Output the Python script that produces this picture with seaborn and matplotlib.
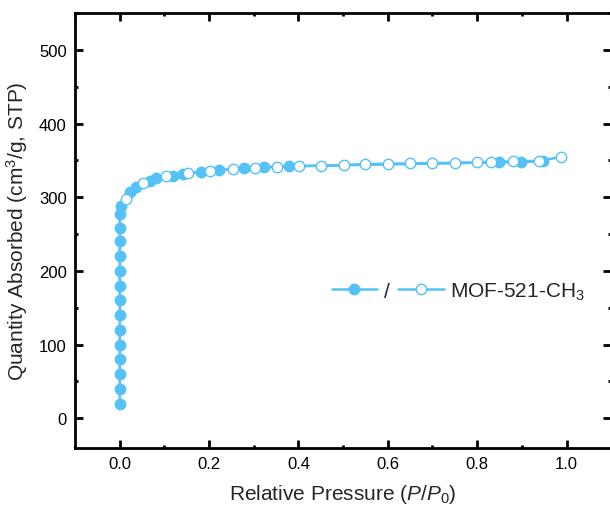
import numpy as np
import pandas as pd
import seaborn as sns
import matplotlib.pyplot as plt
from matplotlib.lines import Line2D

# Adsorption branch (filled markers)
ads_p = [0.0, 0.0, 0.0, 0.0, 0.0, 0.0, 0.0, 0.0, 0.0, 0.0, 0.0, 0.0, 0.0, 0.0,
         0.004, 0.024, 0.036, 0.067, 0.082, 0.119, 0.141, 0.182, 0.223, 0.279,
         0.323, 0.379, 0.848, 0.899, 0.948]
ads_q = [20, 40, 60, 80, 100, 120, 140, 160, 180, 200, 220, 240, 258, 277,
         288.7, 307.7, 313.6, 322.6, 325.8, 329.4, 331.7, 334.8, 336.6, 339.4,
         340.7, 342.0, 347.3, 347.7, 349.0]

# Desorption branch (open markers)
des_p = [0.988, 0.939, 0.881, 0.831, 0.800, 0.750, 0.700, 0.649, 0.600, 0.549,
         0.501, 0.450, 0.401, 0.353, 0.303, 0.253, 0.202, 0.152, 0.104, 0.052, 0.013]
des_q = [354.5, 349.5, 348.6, 347.7, 347.3, 346.8, 346.4, 346.0, 345.5, 345.0,
         343.6, 342.7, 342.5, 341.6, 339.8, 338.5, 335.7, 333.0, 328.5, 319.5, 297.7]

ads = pd.DataFrame({'p': ads_p, 'q': ads_q})
des = pd.DataFrame({'p': des_p, 'q': des_q})

sns.set_style("ticks")
plt.rcParams['font.family'] = ['Liberation Sans', 'DejaVu Sans']
plt.rcParams['mathtext.fontset'] = 'custom'
plt.rcParams['mathtext.rm'] = 'Liberation Sans'
plt.rcParams['mathtext.it'] = 'Liberation Sans:italic'

color = '#54C2F6'
ms = 7.5

fig = plt.figure(figsize=(6.1, 5.1), dpi=100)
ax = fig.add_axes([0.123, 0.12, 0.879, 0.8525])

sns.lineplot(data=ads, x='p', y='q', sort=False, estimator=None, ax=ax,
             color=color, lw=1.8, marker='o', markersize=ms,
             markerfacecolor=color, markeredgecolor=color, markeredgewidth=1)
sns.lineplot(data=des, x='p', y='q', sort=False, estimator=None, ax=ax,
             color=color, lw=1.8, marker='o', markersize=ms,
             markerfacecolor='white', markeredgecolor=color, markeredgewidth=1)

ax.set_xlim(-0.1, 1.1)
ax.set_ylim(-40, 550)
ax.set_xticks(np.arange(0, 1.01, 0.2))
ax.set_xticks(np.arange(-0.1, 1.11, 0.1), minor=True)
ax.set_yticks(np.arange(0, 501, 100))
ax.set_yticks(np.arange(0, 551, 50), minor=True)
ax.xaxis.set_major_formatter(plt.FormatStrFormatter('%.1f'))

ax.tick_params(which='both', direction='in', top=True, right=True,
               width=2, labelsize=12, colors='black')
ax.tick_params(which='major', length=5.5, pad=6)
ax.tick_params(which='minor', length=2.5)
for s in ax.spines.values():
    s.set_linewidth(2)
    s.set_color('black')

ax.set_xlabel('Relative Pressure ($P$/$P_{\\mathit{0}}$)', fontsize=15, labelpad=8)
ax.set_ylabel('Quantity Absorbed (cm$^3$/g, STP)', fontsize=15, labelpad=6)

h1 = Line2D([], [], color=color, lw=1.8, marker='o', markersize=ms,
            markerfacecolor=color, markeredgecolor=color)
h2 = Line2D([], [], color=color, lw=1.8, marker='o', markersize=ms,
            markerfacecolor='white', markeredgecolor=color)
ax.legend([h1, h2], ['/', 'MOF-521-CH$_3$'], ncol=2, frameon=False,
          loc='center left', bbox_to_anchor=(0.459, 0.36), fontsize=15,
          handlelength=2.2, handletextpad=0.3, columnspacing=0.4, borderpad=0)

fig.savefig('out.png', dpi=100)
